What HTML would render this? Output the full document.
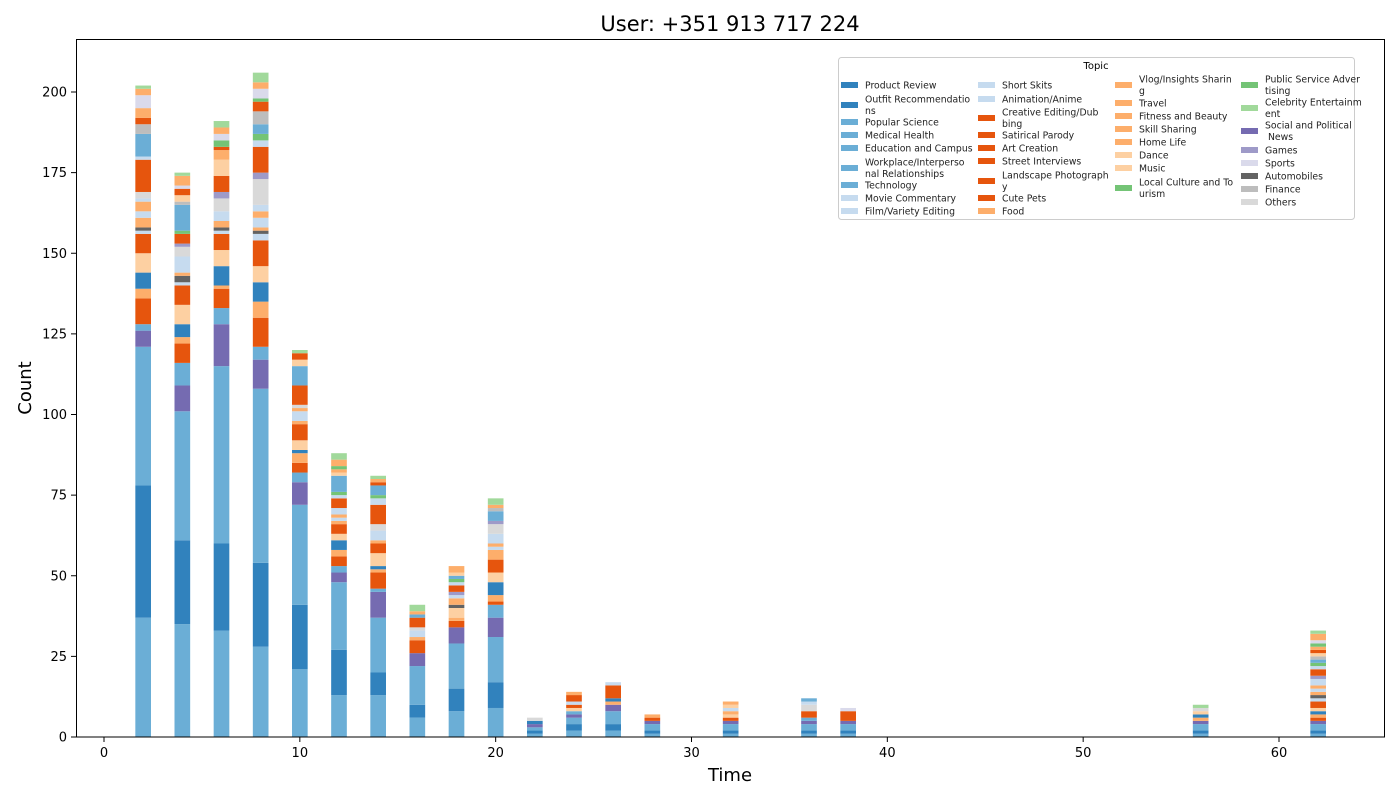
<!DOCTYPE html>
<html><head><meta charset="utf-8"><style>
html,body{margin:0;padding:0;background:#fff;}
svg{display:block;font-family:"DejaVu Sans","Liberation Sans",sans-serif;}
</style></head><body>
<svg id="chart" width="1400" height="800" viewBox="0 0 1400 800">
<rect x="0" y="0" width="1400" height="800" fill="#fff"/>
<text x="730" y="31" font-size="21" text-anchor="middle">User: +351 913 717 224</text>
<g id="bars"></g>
<rect x="76.5" y="39.5" width="1308" height="697.5" fill="none" stroke="#000" stroke-width="1"/>
<g id="xticks"></g>
<g id="yticks"></g>
<text x="730" y="781" font-size="18" text-anchor="middle">Time</text>
<text x="31" y="388" font-size="18" text-anchor="middle" transform="rotate(-90 31 388)">Count</text>
<g id="legend">
<rect x="838.5" y="57.5" width="516" height="162" rx="3" fill="#fff" fill-opacity="0.8" stroke="#ccc"/>
<text x="1096" y="69" font-size="10" text-anchor="middle">Topic</text>
</g>
</svg>
<script>
const topics = ["Product Review","Outfit Recommendatio\nns","Popular Science","Medical Health","Education and Campus","Workplace/Interperso\nnal Relationships","Technology","Movie Commentary","Film/Variety Editing","Short Skits","Animation/Anime","Creative Editing/Dub\nbing","Satirical Parody","Art Creation","Street Interviews","Landscape Photograph\ny","Cute Pets","Food","Vlog/Insights Sharin\ng","Travel","Fitness and Beauty","Skill Sharing","Home Life","Dance","Music","Local Culture and To\nurism","Public Service Adver\ntising","Celebrity Entertainm\nent","Social and Political\n News","Games","Sports","Automobiles","Finance","Others"];
const topicColors = ["#3182bd","#3182bd","#6baed6","#6baed6","#6baed6","#6baed6","#6baed6","#c6dbef","#c6dbef","#c6dbef","#c6dbef","#e6550d","#e6550d","#e6550d","#e6550d","#e6550d","#e6550d","#fdae6b","#fdae6b","#fdae6b","#fdae6b","#fdae6b","#fdae6b","#fdd0a2","#fdd0a2","#74c476","#74c476","#a1d99b","#756bb1","#9e9ac8","#dadaeb","#636363","#bdbdbd","#d9d9d9"];
// code letter -> topic index
const codeTopic = {B:0,L:2,P:7,O:11,A:17,D:23,G:25,H:27,V:28,M:29,S:30,K:31,F:32,X:33};
const times = [2,4,6,8,10,12,14,16,18,20,22,24,26,28,32,36,38,56,62];
const topicCodes = [
"LBLVLOABDOPKAPAPXOPLFOASAH",
"LBLVLOABDOPKAPXMOGLFDOSAH",
"LBLVLOABDOPKAPXMODAOGSAH",
"LBLVLOABDOPKAPAPXMOPGLFOGSAH",
"LBLVLOABDOAPAXOLDOH",
"LBLVLOABDOAPAPOPGLDAGAH",
"LBLVLOABDOAPXOPGLOAH",
"LBLVOAPXOLAH",
"LBLVOADKAPMOPGLDA",
"LBLVLOABDOAPAPXMLFAH",
"LBLVBX",
"LBLVLDOPOA",
"LBLVABOP",
"LBLVOA",
"LBLVODAPDA",
"LBLVLOXPL",
"LBLVOS",
"LBLVABDXH",
"LBLVOABDOPKAPAPMOPGLFDOAGSAH"
];
// cumulative stack tops (count) for each segment
const stackTops = [
[37,78,121,126,128,136,139,144,150,156,157,158,161,163,166,167,169,179,180,187,190,192,195,199,201,202],
[35,61,101,109,116,122,124,128,134,140,141,143,144,149,152,153,156,157,165,166,168,170,171,174,175],
[33,60,115,128,133,139,140,146,151,156,157,158,160,163,167,169,174,179,182,183,185,187,189,191],
[28,54,108,117,121,130,135,141,146,154,156,157,158,161,163,165,173,175,183,185,187,190,194,197,198,201,203,206],
[21,41,72,79,82,85,88,89,92,97,98,101,102,103,109,115,117,119,120],
[13,27,48,51,53,56,58,61,63,66,67,68,69,71,74,75,76,81,82,83,84,86,88],
[13,20,37,45,46,51,52,53,57,60,61,64,66,72,74,75,78,79,80,81],
[6,10,22,26,30,31,33,34,37,38,39,41],
[8,15,29,34,36,37,40,41,43,44,45,47,48,49,50,51,53],
[9,17,31,37,41,42,44,48,51,55,58,59,60,63,66,67,70,71,72,74],
[1,2,3,4,5,6],
[2,4,6,7,8,9,10,11,13,14],
[2,4,8,10,11,12,16,17],
[1,2,4,5,6,7],
[1,2,4,5,6,7,8,9,10,11],
[1,2,4,5,6,8,10,11,12],
[1,2,4,5,8,9],
[1,2,4,5,6,7,8,9,10],
[1,2,4,5,6,7,8,9,11,12,13,14,15,16,18,19,21,22,23,24,25,26,27,28,29,30,32,33]
];
const xTicks = [0,10,20,30,40,50,60];
const yTicks = [0,25,50,75,100,125,150,175,200];

const NS = "http://www.w3.org/2000/svg";
const X0 = 104, XS = (1279-104)/60;
const Y0 = 737, YS = (737-92)/200;
const xs = v => X0 + v*XS;
const ys = v => Y0 - v*YS;
const barW = 0.8*XS;
function mk(tag, attrs, parent){const e=document.createElementNS(NS,tag);for(const k in attrs)e.setAttribute(k,attrs[k]);parent.appendChild(e);return e;}

const gb = document.getElementById('bars');
times.forEach((t,i)=>{
  let prev = 0;
  const codes = topicCodes[i], tops = stackTops[i];
  for(let j=0;j<tops.length;j++){
    const top = tops[j];
    const r = mk('rect',{x:xs(t)-barW/2,y:ys(top),width:barW,height:ys(prev)-ys(top),fill:topicColors[codeTopic[codes[j]]]},gb);
    
    
    prev = top;
  }
});

const gx = document.getElementById('xticks');
xTicks.forEach(v=>{
  const l = mk('line',{x1:xs(v),x2:xs(v),y1:737,y2:742,stroke:'#000'},gx);
  
  
  const tx = mk('text',{x:xs(v),y:757,'font-size':13,'text-anchor':'middle'},gx);
  tx.textContent = v;
  
  
});
const gy = document.getElementById('yticks');
yTicks.forEach(v=>{
  const l = mk('line',{x1:71,x2:76,y1:ys(v),y2:ys(v),stroke:'#000'},gy);
  
  
  const tx = mk('text',{x:67,y:ys(v)+4.5,'font-size':13,'text-anchor':'end'},gy);
  tx.textContent = v;
  
  
});

// legend layout
const colX = [841,978,1115,1241];
const colRows = [
 [85,105,122,135,148,168,185,198,211],
 [85,99,118,135,148,161,181,198,211],
 [85,103,116,129,142,155,168,188],
 [85,108,131,150,163,176,189,202]
];
const gl = document.getElementById('legend');
let k = 0;
colRows.forEach((rows,c)=>{
  rows.forEach(cy=>{
    if(k>=topics.length) return;
    const g = mk('g',{},gl);
    
    
    mk('rect',{x:colX[c],y:cy-3,width:17,height:6,fill:topicColors[k]},g);
    const lines = topics[k].split('\n');
    const t = mk('text',{x:colX[c]+24,y:cy+3.3-(lines.length-1)*5.8,'font-size':9.3,fill:'#222'},g);
    lines.forEach((ln,li)=>{
      const s = mk('tspan',{x:colX[c]+24,dy:li?11.6:0},t);
      s.textContent = ln;
    });
    k++;
  });
});
</script>
</body></html>
